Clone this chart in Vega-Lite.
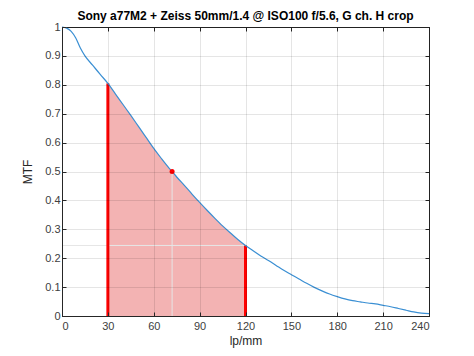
{
  "$schema": "https://vega.github.io/schema/vega-lite/v6.json",
  "autosize": "none",
  "width": 367,
  "height": 289,
  "padding": {"left": 62, "top": 27, "right": 45, "bottom": 40},
  "background": "white",
  "title": {"text": "Sony a77M2 + Zeiss 50mm/1.4 @ ISO100 f/5.6, G ch. H crop", "font": "Liberation Sans", "fontSize": 12, "fontWeight": "bold", "color": "#000000", "anchor": "middle", "offset": -2},
  "config": {
    "view": {"stroke": "#262626", "strokeWidth": 1},
    "axis": {"labelFont": "Liberation Sans", "titleFont": "Liberation Sans", "labelFontSize": 11, "titleFontSize": 12, "titleFontWeight": "normal", "labelColor": "#404040", "titleColor": "#262626", "domainColor": "#262626", "tickColor": "#262626", "gridColor": "#000000", "gridOpacity": 0.1, "gridWidth": 1, "grid": true, "labelOverlap": false}
  },
  "datasets": {
    "curve": [
      {"f": 0, "mtf": 1.0}, {"f": 3, "mtf": 0.996}, {"f": 6, "mtf": 0.985}, {"f": 9, "mtf": 0.962},
      {"f": 12, "mtf": 0.927}, {"f": 15, "mtf": 0.9}, {"f": 20, "mtf": 0.868}, {"f": 25, "mtf": 0.836},
      {"f": 30, "mtf": 0.805}, {"f": 35, "mtf": 0.768}, {"f": 40, "mtf": 0.731}, {"f": 45, "mtf": 0.694},
      {"f": 50, "mtf": 0.656}, {"f": 55, "mtf": 0.618}, {"f": 60, "mtf": 0.58}, {"f": 65, "mtf": 0.545},
      {"f": 70, "mtf": 0.512}, {"f": 72, "mtf": 0.5}, {"f": 75, "mtf": 0.481}, {"f": 80, "mtf": 0.452},
      {"f": 85, "mtf": 0.422}, {"f": 90, "mtf": 0.393}, {"f": 95, "mtf": 0.365}, {"f": 100, "mtf": 0.338},
      {"f": 105, "mtf": 0.312}, {"f": 110, "mtf": 0.288}, {"f": 115, "mtf": 0.265}, {"f": 120, "mtf": 0.244},
      {"f": 125, "mtf": 0.226}, {"f": 130, "mtf": 0.208}, {"f": 135, "mtf": 0.192}, {"f": 140, "mtf": 0.175},
      {"f": 145, "mtf": 0.158}, {"f": 150, "mtf": 0.143}, {"f": 155, "mtf": 0.128}, {"f": 160, "mtf": 0.113},
      {"f": 165, "mtf": 0.099}, {"f": 170, "mtf": 0.087}, {"f": 175, "mtf": 0.076}, {"f": 180, "mtf": 0.067},
      {"f": 185, "mtf": 0.059}, {"f": 190, "mtf": 0.053}, {"f": 195, "mtf": 0.049}, {"f": 200, "mtf": 0.045},
      {"f": 205, "mtf": 0.042}, {"f": 210, "mtf": 0.037}, {"f": 215, "mtf": 0.032}, {"f": 220, "mtf": 0.026},
      {"f": 225, "mtf": 0.02}, {"f": 230, "mtf": 0.014}, {"f": 235, "mtf": 0.01}, {"f": 240, "mtf": 0.008}
    ],
    "guides": [
      {"f": 72, "f2": 72, "mtf": 0, "mtf2": 0.5},
      {"f": 0, "f2": 120, "mtf": 0.244, "mtf2": 0.244}
    ],
    "redlines": [
      {"f": 30, "mtf": 0, "mtf2": 0.805},
      {"f": 120, "mtf": 0, "mtf2": 0.244}
    ],
    "dot": [{"f": 72, "mtf": 0.5}]
  },
  "resolve": {"axis": {"x": "independent", "y": "independent"}},
  "layer": [
    {
      "encoding": {
        "x": {"field": "f", "type": "quantitative", "scale": {"domain": [0, 240], "nice": false}, "axis": {"values": [0, 30, 60, 90, 120, 150, 180, 210, 240], "title": "lp/mm", "titlePadding": 4, "labelPadding": 8, "tickSize": -4, "grid": true, "zindex": 1}},
        "y": {"field": "mtf", "type": "quantitative", "scale": {"domain": [0, 1], "nice": false}, "axis": {"values": [0, 0.1, 0.2, 0.3, 0.4, 0.5, 0.6, 0.7, 0.8, 0.9, 1], "format": ".1~f", "title": "MTF", "titlePadding": 10, "labelPadding": 6, "tickSize": -4, "grid": true, "zindex": 1}}
      },
      "layer": [
        {
          "data": {"name": "curve"},
          "transform": [{"filter": "datum.f >= 30 && datum.f <= 120"}],
          "mark": {"type": "area", "color": "#f3b3b3", "opacity": 1}
        },
        {
          "data": {"name": "guides"},
          "mark": {"type": "rule", "color": "#e6e6e6", "strokeWidth": 1},
          "encoding": {"x2": {"field": "f2"}, "y2": {"field": "mtf2"}}
        },
        {
          "data": {"name": "redlines"},
          "mark": {"type": "rule", "color": "#ff0000", "strokeWidth": 3},
          "encoding": {"y2": {"field": "mtf2"}}
        },
        {
          "data": {"name": "curve"},
          "mark": {"type": "line", "color": "#3a8fd3", "strokeWidth": 1.2, "interpolate": "monotone"}
        },
        {
          "data": {"name": "dot"},
          "mark": {"type": "point", "filled": true, "color": "#ff0000", "size": 25, "opacity": 1}
        }
      ]
    },
    {
      "data": {"name": "dot"},
      "mark": {"type": "point", "opacity": 0},
      "encoding": {
        "x": {"field": "f", "type": "quantitative", "axis": {"orient": "top", "values": [0, 30, 60, 90, 120, 150, 180, 210, 240], "labels": false, "title": null, "grid": false, "tickSize": -4}},
        "y": {"field": "mtf", "type": "quantitative", "axis": {"orient": "right", "values": [0, 0.1, 0.2, 0.3, 0.4, 0.5, 0.6, 0.7, 0.8, 0.9, 1], "labels": false, "title": null, "grid": false, "tickSize": -4}}
      }
    }
  ]
}
